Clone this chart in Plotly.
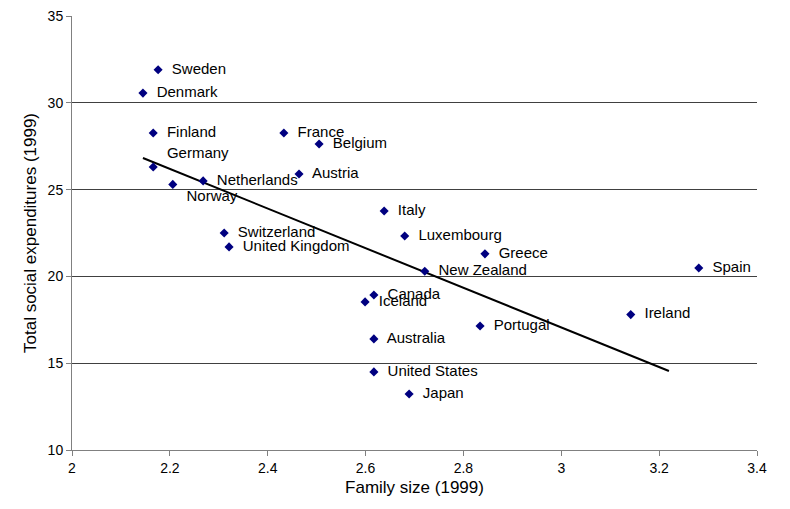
import plotly.graph_objects as go

countries = ["Sweden", "Denmark", "Finland", "France", "Belgium", "Germany", "Austria",
             "Netherlands", "Norway", "Italy", "Switzerland", "Luxembourg", "United Kingdom",
             "Greece", "Spain", "New Zealand", "Canada", "Iceland", "Ireland", "Portugal",
             "Australia", "United States", "Japan"]
family_size = [2.176, 2.145, 2.166, 2.433, 2.505, 2.166, 2.464, 2.268, 2.206, 2.638, 2.311,
               2.68, 2.321, 2.844, 3.281, 2.721, 2.617, 2.599, 3.142, 2.834, 2.617, 2.617, 2.689]
social_exp = [31.9, 30.56, 28.26, 28.26, 27.63, 26.3, 25.9, 25.5, 25.3, 23.77, 22.5, 22.33,
              21.7, 21.3, 20.48, 20.3, 18.93, 18.53, 17.8, 17.14, 16.4, 14.5, 13.23]
trend_x = [2.145, 3.22]
trend_y = [26.82, 14.55]

# Germany/Norway labels sit offset in the original
positions = ["middle right"] * len(countries)
positions[countries.index("Germany")] = "top right"
positions[countries.index("Norway")] = "bottom right"

fig = go.Figure()
fig.add_trace(go.Scatter(x=trend_x, y=trend_y, mode="lines",
                         line=dict(color="black", width=2), hoverinfo="skip"))
fig.add_trace(go.Scatter(x=family_size, y=social_exp, mode="markers+text",
                         text=["  " + c for c in countries],
                         textposition=positions,
                         textfont=dict(family="Arial", size=15, color="black"),
                         marker=dict(symbol="diamond", size=7, color="#000080")))
fig.update_layout(
    width=790, height=509, showlegend=False,
    margin=dict(l=64, r=41, t=8, b=67),
    plot_bgcolor="white", paper_bgcolor="white",
    font=dict(family="Arial", size=14, color="black"),
)
fig.update_xaxes(range=[2, 3.4], dtick=0.2, showgrid=False, showline=True, linecolor="#808080",
                 ticks="outside", tickcolor="#808080", title_text="Family size (1999)",
                 zeroline=False, title_standoff=6, automargin=False)
fig.update_yaxes(range=[10, 35], dtick=5, showgrid=True, gridcolor="#404040", showline=True,
                 linecolor="#808080", ticks="outside", tickcolor="#808080", zeroline=False,
                 title_text="Total social expenditures (1999)", title_standoff=6, automargin=False,
                 ticklabeloverflow="allow")
fig.write_html("out.html")
